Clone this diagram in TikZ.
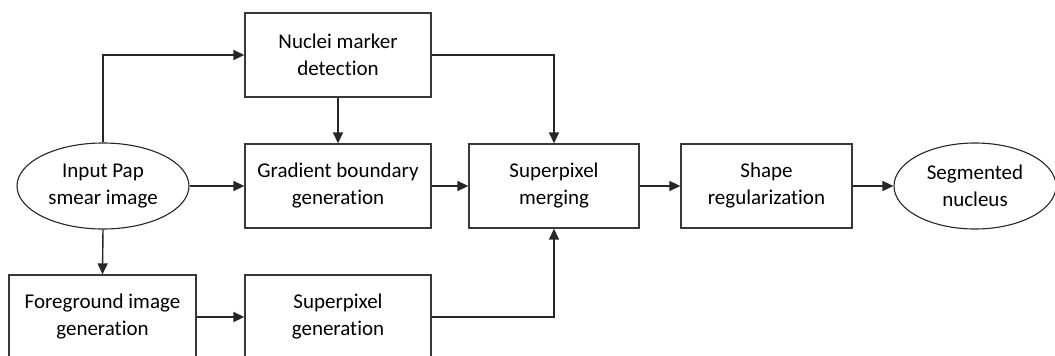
\documentclass[tikz,border=0pt]{standalone}
\usepackage{fontspec}
\setmainfont{Carlito}[Ligatures={NoCommon,NoRare,NoDiscretionary,NoContextual}]
\usetikzlibrary{shapes.geometric,arrows.meta}
\begin{document}
\begin{tikzpicture}[x=1pt,y=-1pt,
  every node/.style={font=\fontsize{21}{27}\selectfont, align=center, text=black},
  stage/.style={draw=black!78, line width=1.3pt, rectangle, minimum width=186pt, minimum height=84pt, inner sep=0pt},
  term/.style={draw=black!85, line width=1.1pt, ellipse, minimum width=172pt, minimum height=86pt, inner sep=0pt},
  flow/.style={draw=black!85, line width=1.4pt, -{Triangle[length=11pt,width=10pt]}}
]
\useasboundingbox (0,0) rectangle (1055,356);

\node[term] (in) at (103,186) {Input Pap\\smear image};
\node[stage] (nuc) at (338,55) {Nuclei marker\\detection};
\node[stage] (grad) at (338,186) {Gradient boundary\\generation};
\node[stage, minimum width=170pt] (merge) at (554,186) {Superpixel\\merging};
\node[stage, minimum width=171pt] (shape) at (766.5,186) {Shape\\regularization};
\node[term, minimum width=162pt] (seg) at (975,186) {Segmented\\nucleus};
\node[stage, minimum width=187pt] (fg) at (102.5,317) {Foreground image\\generation};
\node[stage] (spg) at (338,317) {Superpixel\\generation};

\draw[flow] (in.north) |- (nuc.west);
\draw[flow] (nuc.south) -- (grad.north);
\draw[flow] (in.east) -- (grad.west);
\draw[flow] (grad.east) -- (merge.west);
\draw[flow] (nuc.east) -| (merge.north);
\draw[flow] (in.south) -- (fg.north);
\draw[flow] (fg.east) -- (spg.west);
\draw[flow] (spg.east) -| (merge.south);
\draw[flow] (merge.east) -- (shape.west);
\draw[flow] (shape.east) -- (seg.west);
\end{tikzpicture}
\end{document}
